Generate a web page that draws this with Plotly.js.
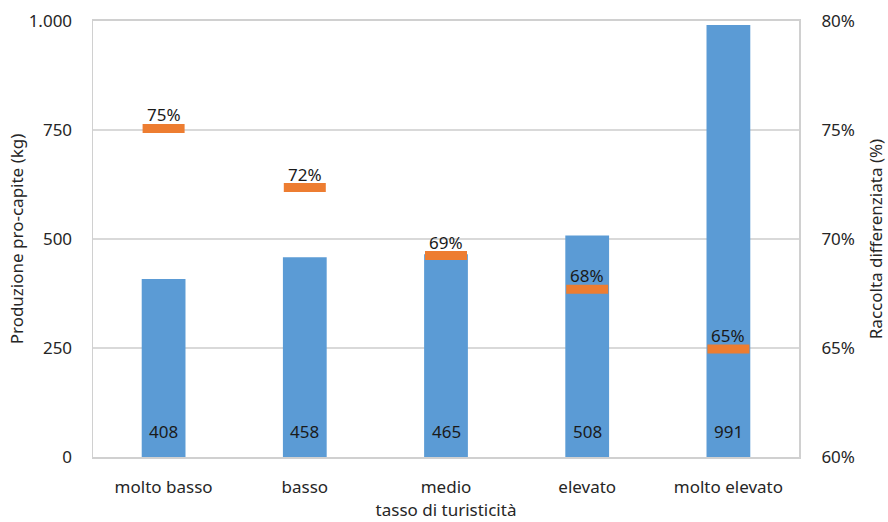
<!DOCTYPE html>
<html>
<head>
<meta charset="utf-8">
<script src="https://cdn.plot.ly/plotly-3.0.1.min.js"></script>
<style>html,body{margin:0;padding:0;background:#fff;}#chart{width:888px;height:522px;}</style>
</head>
<body>
<div id="chart"></div>
<script>
const categories = ["molto basso", "basso", "medio", "elevato", "molto elevato"];
const produzione = [408, 458, 465, 508, 991];
const produzioneLabels = ["408", "458", "465", "508", "991"];
const raccolta = [75.07, 72.36, 69.24, 67.7, 64.95];
const raccoltaLabels = ["75%", "72%", "69%", "68%", "65%"];
const rightTicks = [60, 65, 70, 75, 80];
const rightTickLabels = ["60%", "65%", "70%", "75%", "80%"];
const leftTicks = [0, 250, 500, 750, 1000];
const leftTickLabels = ["0", "250", "500", "750", "1.000"];

const font = "Noto Sans, Open Sans, sans-serif";
const txt = "#262626";

const traces = [
  {
    type: "bar",
    x: categories,
    y: produzione,
    marker: {color: "#5b9bd5"},
    width: 0.31,
    hoverinfo: "x+y"
  },
  {
    type: "scatter",
    mode: "markers",
    x: categories,
    y: raccolta,
    yaxis: "y2",
    marker: {symbol: "line-ew", size: 30, color: "#ed7d31", line: {color: "#ed7d31", width: 9}},
    cliponaxis: false
  }
];

const annotations = [];
categories.forEach((c, i) => {
  annotations.push({
    x: c, y: 0, xref: "x", yref: "y",
    text: produzioneLabels[i], showarrow: false,
    yanchor: "bottom", yshift: 12,
    font: {family: font, size: 17, color: "#1a1a1a"}
  });
  annotations.push({
    x: c, y: raccolta[i], xref: "x", yref: "y2",
    text: raccoltaLabels[i], showarrow: false,
    yanchor: "bottom", yshift: 0,
    font: {family: font, size: 17, color: "#1a1a1a"}
  });
});

const layout = {
  width: 888,
  height: 522,
  margin: {l: 93, r: 89, t: 21, b: 65},
  paper_bgcolor: "#ffffff",
  plot_bgcolor: "#ffffff",
  separators: ",.",
  showlegend: false,
  font: {family: font, size: 17, color: txt},
  annotations: annotations,
  xaxis: {
    type: "category",
    showline: true,
    linecolor: "#d0d0d0",
    linewidth: 2,
    mirror: true,
    ticks: "outside",
    ticklen: 14,
    tickcolor: "rgba(0,0,0,0)",
    automargin: false,
    tickfont: {family: font, size: 17, color: txt},
    title: {text: "tasso di turisticità", font: {family: font, size: 17, color: txt}, standoff: 2}
  },
  yaxis: {
    range: [0, 1000],
    tickmode: "array",
    tickvals: leftTicks,
    ticktext: leftTickLabels,
    showgrid: true,
    gridcolor: "#d9d9d9",
    gridwidth: 1.5,
    zeroline: false,
    showline: true,
    linecolor: "#d0d0d0",
    linewidth: 1.5,
    mirror: true,
    ticks: "outside",
    ticklen: 16,
    tickcolor: "rgba(0,0,0,0)",
    automargin: false,
    tickfont: {family: font, size: 17, color: txt},
    title: {text: "Produzione pro-capite (kg)", font: {family: font, size: 17, color: txt}, standoff: 0}
  },
  yaxis2: {
    overlaying: "y",
    side: "right",
    range: [60, 80],
    tickmode: "array",
    tickvals: rightTicks,
    ticktext: rightTickLabels,
    showgrid: false,
    zeroline: false,
    showline: false,
    ticks: "outside",
    ticklen: 18,
    tickcolor: "rgba(0,0,0,0)",
    automargin: false,
    tickfont: {family: font, size: 17, color: txt},
    title: {text: "Raccolta differenziata (%)", font: {family: font, size: 17, color: txt}, standoff: 16}
  }
};

Plotly.newPlot("chart", traces, layout, {displayModeBar: false, staticPlot: true});
</script>
</body>
</html>
